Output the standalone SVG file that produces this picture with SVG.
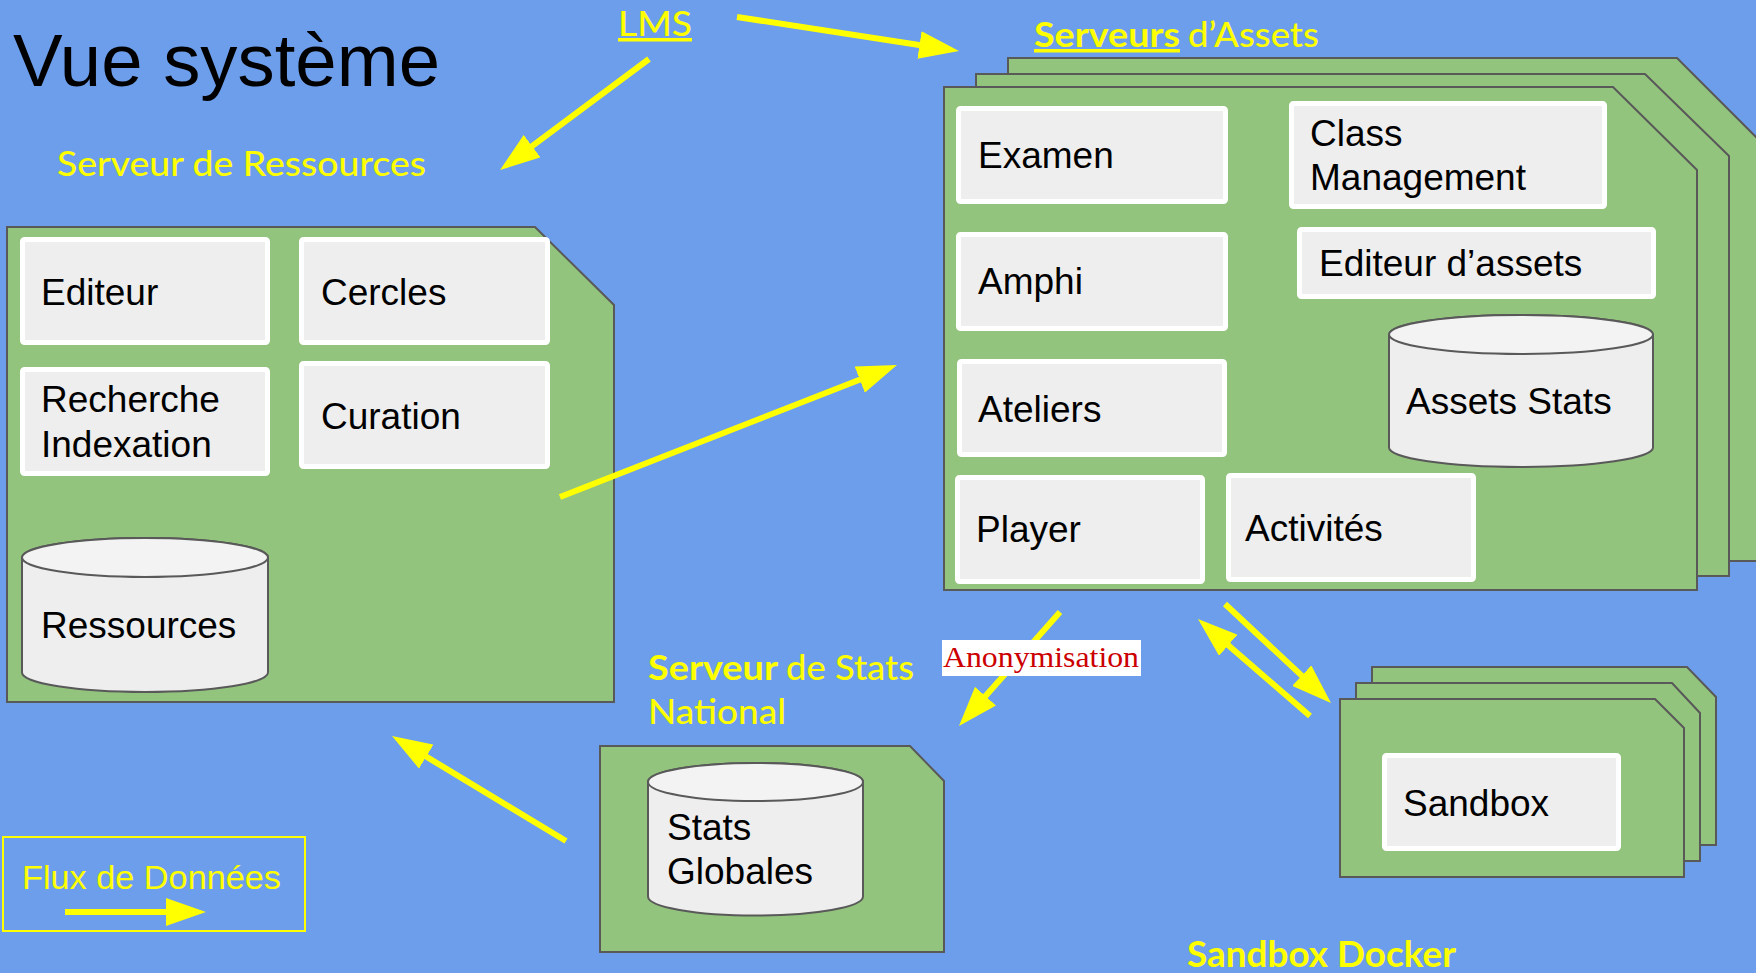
<svg xmlns="http://www.w3.org/2000/svg" width="1756" height="973" viewBox="0 0 1756 973">
<style>
.bg{fill:#6d9eeb}
.srv{fill:#93c47d;stroke:#595959;stroke-width:2}
.box{fill:#eeeeee;stroke:#ffffff;stroke-width:5}
.cyl{fill:#eeeeee;stroke:#595959;stroke-width:2}
.cyltop{fill:#f3f3f3;stroke:#595959;stroke-width:2}
.t{font-family:"Liberation Sans",Arial,sans-serif;font-size:37px;fill:#000}
.y{font-family:Lato,"Open Sans",sans-serif;font-size:35px;font-weight:500;fill:#ffff00}
.yb{font-family:Lato,"Open Sans",sans-serif;font-size:35px;font-weight:bold;fill:#ffff00}
.flow{stroke:#ffff00;stroke-width:6;fill:none;marker-end:url(#ah)}
</style>
<defs>
<marker id="ah" markerUnits="userSpaceOnUse" markerWidth="40" markerHeight="28" refX="8" refY="14" orient="auto">
<path d="M0,0 L40,14 L0,28 z" fill="#ffff00"/>
</marker>
</defs>
<rect class="bg" x="0" y="0" width="1756" height="973"/>

<g id="title">
<text class="t" x="13" y="86" style="font-size:75px" textLength="427" lengthAdjust="spacingAndGlyphs">Vue système</text>
</g>

<g id="lms">
<text class="y" x="618" y="36" textLength="74" lengthAdjust="spacingAndGlyphs" text-decoration="underline">LMS</text>
</g>

<g id="serveur-ressources">
<text class="y" x="57" y="176" textLength="369" lengthAdjust="spacingAndGlyphs">Serveur de Ressources</text>
<polygon class="srv" points="7,227 535,227 614,305 614,702 7,702"/>
<g id="editeur"><rect class="box" x="22.5" y="239.5" width="245" height="103" rx="2"/><text class="t" x="41" y="305">Editeur</text></g>
<g id="cercles"><rect class="box" x="301.5" y="239.5" width="246" height="103" rx="2"/><text class="t" x="321" y="305">Cercles</text></g>
<g id="recherche"><rect class="box" x="22.5" y="369.5" width="245" height="104" rx="2"/><text class="t" x="41" y="412">Recherche</text><text class="t" x="41" y="457">Indexation</text></g>
<g id="curation"><rect class="box" x="301.5" y="363.5" width="246" height="103" rx="2"/><text class="t" x="321" y="429">Curation</text></g>
<g id="ressources">
<path class="cyl" d="M22,557.5 A123,19.5 0 0 1 268,557.5 V672.5 A123,19.5 0 0 1 22,672.5 Z"/>
<ellipse class="cyltop" cx="145" cy="557.5" rx="123" ry="19.5"/>
<text class="t" x="41" y="638">Ressources</text>
</g>
</g>

<g id="serveurs-assets">
<text class="yb" x="1034" y="47" textLength="146" lengthAdjust="spacingAndGlyphs" text-decoration="underline">Serveurs</text>
<text class="y" x="1188" y="47" textLength="131" lengthAdjust="spacingAndGlyphs">d’Assets</text>
<polygon class="srv" points="1008,58 1677,58 1762,143 1762,561 1008,561"/>
<polygon class="srv" points="976,74 1645,74 1729,156 1729,576 976,576"/>
<polygon class="srv" points="944,87 1613,87 1697,170 1697,590 944,590"/>
<g id="examen"><rect class="box" x="958.5" y="108.5" width="267" height="93" rx="2"/><text class="t" x="978" y="168">Examen</text></g>
<g id="class-management"><rect class="box" x="1291.5" y="103.5" width="313" height="103" rx="2"/><text class="t" x="1310" y="146">Class</text><text class="t" x="1310" y="190">Management</text></g>
<g id="amphi"><rect class="box" x="958.5" y="234.5" width="267" height="94" rx="2"/><text class="t" x="978" y="294">Amphi</text></g>
<g id="editeur-assets"><rect class="box" x="1299.5" y="229.5" width="354" height="67" rx="2"/><text class="t" x="1319" y="276">Editeur d’assets</text></g>
<g id="ateliers"><rect class="box" x="959.5" y="361.5" width="265" height="93" rx="2"/><text class="t" x="978" y="422">Ateliers</text></g>
<g id="player"><rect class="box" x="957.5" y="477.5" width="245" height="104" rx="2"/><text class="t" x="976" y="542">Player</text></g>
<g id="activites"><rect class="box" x="1228.5" y="475.5" width="245" height="104" rx="2"/><text class="t" x="1245" y="541">Activités</text></g>
<g id="assets-stats">
<path class="cyl" d="M1389,334.5 A132,19.5 0 0 1 1653,334.5 V447.5 A132,19.5 0 0 1 1389,447.5 Z"/>
<ellipse class="cyltop" cx="1521" cy="334.5" rx="132" ry="19.5"/>
<text class="t" x="1406" y="414">Assets Stats</text>
</g>
</g>

<g id="serveur-stats">
<text class="yb" x="648" y="680" textLength="130" lengthAdjust="spacingAndGlyphs">Serveur</text>
<text class="y" x="786" y="680" textLength="128" lengthAdjust="spacingAndGlyphs">de Stats</text>
<text class="y" x="648" y="724" textLength="138" lengthAdjust="spacingAndGlyphs">National</text>
<polygon class="srv" points="600,746 910,746 944,781 944,952 600,952"/>
<g id="stats-globales">
<path class="cyl" d="M648,782 A107.5,19 0 0 1 863,782 V896.5 A107.5,19 0 0 1 648,896.5 Z"/>
<ellipse class="cyltop" cx="755.5" cy="782" rx="107.5" ry="19"/>
<text class="t" x="667" y="840">Stats</text>
<text class="t" x="667" y="884">Globales</text>
</g>
</g>

<g id="sandbox-docker">
<polygon class="srv" points="1372,667 1687,667 1716,697 1716,845 1372,845"/>
<polygon class="srv" points="1356,683 1672,683 1700,713 1700,861 1356,861"/>
<polygon class="srv" points="1340,699 1655,699 1684,728 1684,877 1340,877"/>
<g id="sandbox"><rect class="box" x="1384.5" y="755.5" width="234" height="93" rx="2"/><text class="t" x="1403" y="816">Sandbox</text></g>
<text class="yb" x="1187" y="967" style="font-size:36px" textLength="269" lengthAdjust="spacingAndGlyphs">Sandbox Docker</text>
</g>

<g id="legend">
<rect x="3" y="837" width="302" height="94" fill="none" stroke="#ffff00" stroke-width="2"/>
<text x="22" y="889" style="font-family:'Liberation Sans',Arial,sans-serif;font-size:34px;fill:#ffff00" textLength="259" lengthAdjust="spacingAndGlyphs">Flux de Données</text>
<line class="flow" x1="65" y1="912" x2="174" y2="912"/>
</g>

<g id="connectors">
<line class="flow" x1="737" y1="17" x2="927.4" y2="46.2"/>
<line class="flow" x1="649" y1="59" x2="525.7" y2="150.9"/>
<line class="flow" x1="560" y1="497" x2="867.2" y2="376.7"/>
<line class="flow" x1="566" y1="841" x2="419.4" y2="752.5"/>
<line class="flow" x1="1060" y1="612" x2="980.2" y2="702.1"/>
<line class="flow" x1="1225" y1="604" x2="1307.6" y2="681.1"/>
<line class="flow" x1="1310" y1="716" x2="1222.2" y2="640"/>
<g id="anonymisation-label">
<rect x="942" y="640" width="199" height="36" fill="#ffffff"/>
<text x="943" y="667" style="font-family:'Liberation Serif','Times New Roman',serif;font-size:30px;fill:#cc0000" textLength="196" lengthAdjust="spacingAndGlyphs">Anonymisation</text>
</g>
</g>
</svg>
